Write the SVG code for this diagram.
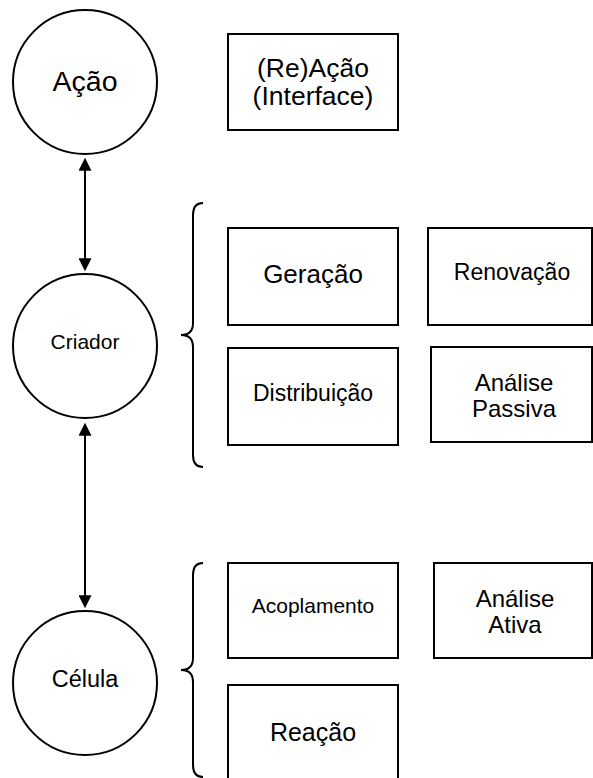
<svg xmlns="http://www.w3.org/2000/svg" width="593" height="778" viewBox="0 0 593 778">
  <style>
    .shape { fill: #ffffff; stroke: #000000; stroke-width: 2; }
    .brace { fill: none; stroke: #000000; stroke-width: 2; }
    .link { stroke: #000000; stroke-width: 2; fill: none; }
    .label { font-family: "Liberation Sans", Arial, Helvetica, sans-serif; fill: #000000; text-anchor: middle; dominant-baseline: central; }
  </style>
  <defs>
    <marker id="head" viewBox="0 0 10 10" refX="0.5" refY="5" markerWidth="15" markerHeight="13" markerUnits="userSpaceOnUse" orient="auto-start-reverse">
      <path d="M0,0 L10,5 L0,10 z" fill="#000000"/>
    </marker>
  </defs>
  <rect width="593" height="778" fill="#ffffff"/>

  <!-- connectors between the stacked circles -->
  <g id="connectors">
    <line class="link" x1="85" y1="170" x2="85" y2="259" marker-start="url(#head)" marker-end="url(#head)"/>
    <line class="link" x1="85" y1="435" x2="85" y2="596" marker-start="url(#head)" marker-end="url(#head)"/>
  </g>

  <!-- curly braces grouping the boxes -->
  <g id="brace-criador">
    <path class="brace" d="M203,203 Q193,203 193,215 L193,323 Q193,335 181,335 Q193,335 193,347 L193,455 Q193,467 203,467"/>
  </g>
  <g id="brace-celula">
    <path class="brace" d="M203,563 Q193,563 193,575 L193,658 Q193,670 181,670 Q193,670 193,682 L193,765 Q193,777 203,777"/>
  </g>

  <g id="acao">
    <circle class="shape" cx="85" cy="82" r="72"/>
    <text class="label" x="85" y="81" font-size="28.5">Ação</text>
  </g>
  <g id="reacao-interface">
    <rect class="shape" x="228" y="34" width="170" height="96"/>
    <text class="label" x="313" y="68" font-size="26.5">(Re)Ação</text>
    <text class="label" x="313" y="96" font-size="26.5">(Interface)</text>
  </g>

  <g id="criador">
    <circle class="shape" cx="85" cy="346" r="72"/>
    <text class="label" x="85" y="341" font-size="21">Criador</text>
  </g>
  <g id="geracao">
    <rect class="shape" x="228" y="228" width="170" height="97"/>
    <text class="label" x="313" y="274" font-size="26">Geração</text>
  </g>
  <g id="renovacao">
    <rect class="shape" x="428" y="228" width="164" height="97"/>
    <text class="label" x="512" y="272" font-size="23">Renovação</text>
  </g>
  <g id="distribuicao">
    <rect class="shape" x="228" y="348" width="170" height="97"/>
    <text class="label" x="313" y="393" font-size="23">Distribuição</text>
  </g>
  <g id="analise-passiva">
    <rect class="shape" x="431" y="347" width="161" height="95"/>
    <text class="label" x="514" y="382" font-size="24">Análise</text>
    <text class="label" x="514" y="408" font-size="24">Passiva</text>
  </g>

  <g id="celula">
    <circle class="shape" cx="85" cy="683" r="72"/>
    <text class="label" x="85" y="679" font-size="23.5">Célula</text>
  </g>
  <g id="acoplamento">
    <rect class="shape" x="228" y="563" width="170" height="95"/>
    <text class="label" x="313" y="605" font-size="21">Acoplamento</text>
  </g>
  <g id="analise-ativa">
    <rect class="shape" x="434" y="563" width="158" height="95"/>
    <text class="label" x="515" y="598" font-size="24">Análise</text>
    <text class="label" x="515" y="624" font-size="24">Ativa</text>
  </g>
  <g id="reacao">
    <rect class="shape" x="228" y="685" width="170" height="96"/>
    <text class="label" x="313" y="732" font-size="25">Reação</text>
  </g>
</svg>
